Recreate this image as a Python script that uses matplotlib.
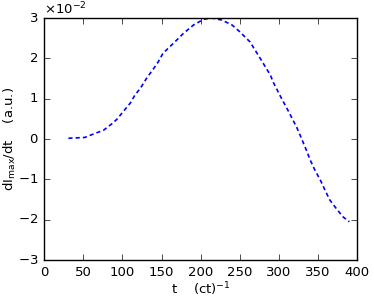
import matplotlib
matplotlib.use("Agg")
import matplotlib.pyplot as plt
import numpy as np

plt.style.use("classic")
plt.rcParams["mathtext.fontset"] = "dejavusans"
plt.rcParams["font.size"] = 9.5

# values
t = [31, 52, 65, 76, 86, 93, 101, 110, 116, 123, 131, 140, 146, 152,
     165, 178, 191, 204, 214, 227, 240, 250, 263, 272, 278, 283, 289,
     293, 298, 303, 308, 313, 318, 323, 327, 335, 340, 346, 353, 359,
     365, 374, 382, 390]
dI = [0.0002, 0.0004, 0.0014, 0.0022, 0.0037, 0.0049, 0.0068, 0.0089,
      0.0109, 0.0126, 0.0151, 0.0175, 0.0192, 0.0213, 0.0237, 0.0262,
      0.0283, 0.0297, 0.0300, 0.0295, 0.0283, 0.0266, 0.0241, 0.0213,
      0.0194, 0.0178, 0.0159, 0.0140, 0.0121, 0.0102, 0.0084, 0.0066,
      0.0047, 0.0028, 0.0010, -0.0027, -0.0052, -0.0077, -0.0102,
      -0.0127, -0.0151, -0.0174, -0.0193, -0.0205]

fig = plt.figure(figsize=(3.74, 3.01), dpi=100, facecolor="white")
ax = fig.add_axes([0.118, 0.136, 0.837, 0.804])

ax.plot(t, dI, color="b", linestyle=(0, (3, 2.2)), linewidth=1.2)

ax.set_xlim(0, 400)
ax.set_ylim(-0.03, 0.03)
ax.set_xticks(np.arange(0, 401, 50))
ax.set_yticks(np.arange(-0.03, 0.031, 0.01))
ax.ticklabel_format(style="sci", axis="y", scilimits=(0, 0), useMathText=True)

ax.set_xlabel(r"t    (ct)$^{-1}$")
ax.set_ylabel(r"dI$_{\mathrm{max}}$/dt    (a.u.)")
ax.xaxis.set_label_coords(0.5, -0.085)
ax.yaxis.set_label_coords(-0.083, 0.5)

fig.savefig("out.png", dpi=100, facecolor="white")
